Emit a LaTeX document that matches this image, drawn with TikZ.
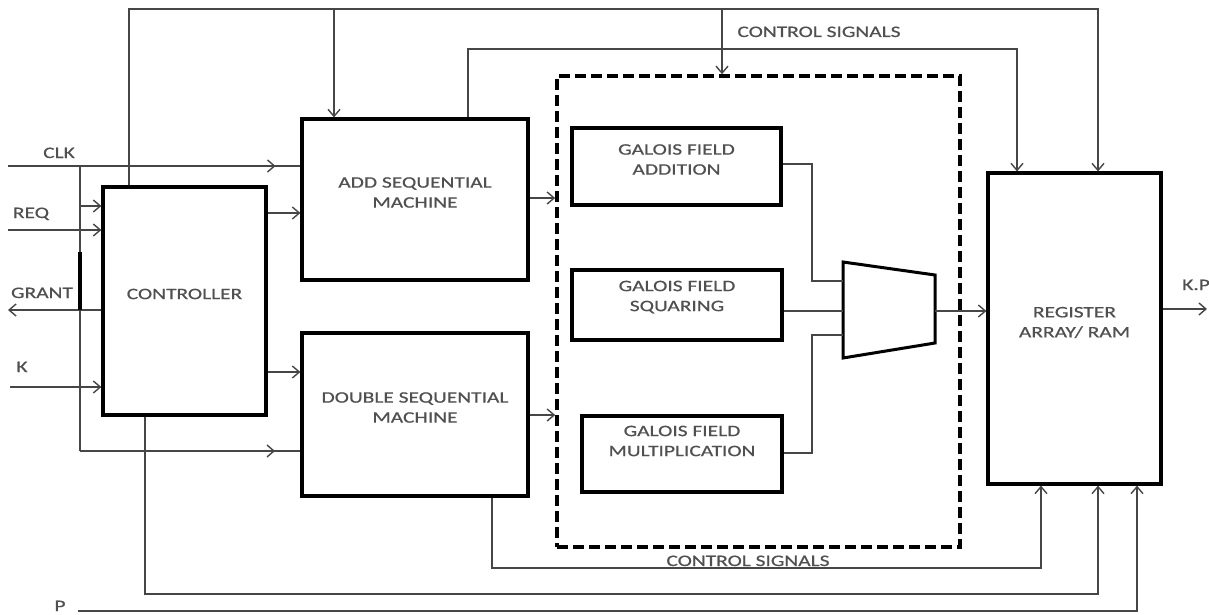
\documentclass[tikz,border=0pt]{standalone}
\usepackage{fontspec}
\setmainfont[FakeStretch=1.34,FakeBold=0.6]{Carlito}
\usetikzlibrary{arrows.meta,decorations.markings}

\definecolor{txtgray}{RGB}{80,80,80}
\definecolor{wiregray}{RGB}{70,70,70}

\begin{document}
\begin{tikzpicture}[x=1pt,y=-1pt,>={Straight Barb[length=7pt,width=12pt]},
    font=\fontsize{16}{20}\selectfont,
    box/.style={draw=black,line width=3.2pt,inner sep=0pt},
    wire/.style={draw=wiregray,line width=1.4pt},
    lbl/.style={text=txtgray,inner sep=0pt,align=center},
    midarrow/.style={postaction={decorate},decoration={markings,mark=at position #1 with {\arrow{>}}}}]
    \useasboundingbox (0,0) rectangle (1209,615);

    % Blocks
    \node[box,minimum width=163pt,minimum height=228pt,label={[lbl,yshift=7pt]center:CONTROLLER}] (ctrl) at (184.5,301) {};
    \node[box,minimum width=226pt,minimum height=161pt,label={[lbl,yshift=7pt]center:ADD SEQUENTIAL\\MACHINE}] (add) at (415,199.5) {};
    \node[box,minimum width=226pt,minimum height=163pt,label={[lbl,yshift=7pt]center:DOUBLE SEQUENTIAL\\MACHINE}] (dbl) at (415,414.5) {};
    \node[box,dash pattern=on 11pt off 5pt,line width=3.6pt,minimum width=403pt,minimum height=471pt] (gf) at (758.5,311.5) {};
    \node[box,minimum width=209pt,minimum height=77pt,label={[lbl,yshift=7pt]center:GALOIS FIELD\\ADDITION}] (gfadd) at (676.5,166.5) {};
    \node[box,minimum width=210pt,minimum height=70pt,label={[lbl,yshift=8pt]center:GALOIS FIELD\\SQUARING}] (gfsq) at (677,305) {};
    \node[box,minimum width=200pt,minimum height=76pt,label={[lbl,yshift=13pt]center:GALOIS FIELD\\MULTIPLICATION}] (gfmul) at (682,454) {};
    \node[box,minimum width=173pt,minimum height=311pt,label={[lbl,yshift=6pt]center:REGISTER\\ARRAY/ RAM}] (reg) at (1074.5,328.5) {};

    % Multiplexer
    \draw[line width=3pt,line join=miter] (843,262) -- (935,275) -- (935,343) -- (843,358) -- cycle;
    \coordinate (muxin1) at (843,281);
    \coordinate (muxin2) at (843,311);
    \coordinate (muxin3) at (843,335);
    \coordinate (muxout) at (935,311);

    % Top control bus
    \coordinate (bus1) at (129,9);
    \coordinate (bus2) at (334,9);
    \coordinate (bus3) at (722,9);
    \coordinate (bus4) at (1098,9);
    \draw[wire,->] (ctrl.north -| bus1) -- (bus1) -- (bus4) -- (reg.north -| bus4);
    \draw[wire,->] (bus2) -- (add.north -| bus2);
    \draw[wire,->] (bus3) -- (gf.north -| bus3);
    \coordinate (cs1) at (468,49);
    \coordinate (cs2) at (1017,49);
    \draw[wire,->] (add.north -| cs1) -- (cs1) -- (cs2) -- (reg.north -| cs2);
    \node[lbl,anchor=base] (cstop) at (819,37) {CONTROL SIGNALS};

    % Inputs on the left
    \coordinate (clkin) at (8,166);
    \coordinate (clkbus) at (80,166);
    \coordinate (clkreq) at (80,206);
    \coordinate (clkbot) at (80,451);
    \coordinate (reqin) at (8,230);
    \coordinate (grantout) at (8,310);
    \coordinate (gbar) at (80,252);
    \coordinate (kin) at (10,387);
    \draw[wire,midarrow=0.915] (clkin) -- (add.west |- clkin);
    \draw[wire] (clkbus) -- (clkbot);
    \draw[wire,->] (clkreq) -- (ctrl.west |- clkreq);
    \draw[wire,midarrow=0.885] (clkbot) -- (dbl.west |- clkbot);
    \draw[wire,->] (reqin) -- (ctrl.west |- reqin);
    \draw[wire,->] (ctrl.west |- grantout) -- (grantout);
    \draw[line width=4.5pt] (gbar) -- (gbar |- grantout);
    \draw[wire,->] (kin) -- (ctrl.west |- kin);
    \node[lbl,anchor=base] (lclk) at (59,158) {CLK};
    \node[lbl,anchor=base] (lreq) at (31,218) {REQ};
    \node[lbl,anchor=base] (lgrant) at (42,298) {GRANT};
    \node[lbl,anchor=base] (lk) at (22,372) {K};

    % Controller to sequential machines
    \coordinate (c2a) at (284,213);
    \coordinate (c2d) at (284,372);
    \draw[wire,->] (ctrl.east |- c2a) -- (add.west |- c2a);
    \draw[wire,->] (ctrl.east |- c2d) -- (dbl.west |- c2d);

    % Sequential machines to Galois field unit
    \coordinate (a2g) at (540,198);
    \coordinate (d2g) at (540,415);
    \draw[wire,->] (add.east |- a2g) -- (gf.west |- a2g);
    \draw[wire,->] (dbl.east |- d2g) -- (gf.west |- d2g);

    % Galois field blocks to multiplexer
    \coordinate (m1) at (812,164);
    \coordinate (m3) at (812,453);
    \draw[wire] (gfadd.east |- m1) -- (m1) |- (muxin1);
    \draw[wire] (gfsq.east |- muxin2) -- (muxin2);
    \draw[wire] (gfmul.east |- m3) -- (m3) |- (muxin3);
    \draw[wire,->] (muxout) -- (reg.west |- muxout);

    % Output
    \coordinate (kpout) at (1207,309);
    \draw[wire,->] (reg.east |- kpout) -- (kpout);
    \node[lbl,anchor=base west] (lkp) at (1182,290) {K.P};

    % Bottom lines
    \coordinate (cb1) at (492,568);
    \coordinate (cb2) at (1041,568);
    \draw[wire,->] (dbl.south -| cb1) -- (cb1) -- (cb2) -- (reg.south -| cb2);
    \node[lbl,anchor=base] (csbot) at (748,566) {CONTROL SIGNALS};
    \coordinate (cc1) at (145,594);
    \coordinate (cc2) at (1098,594);
    \draw[wire,->] (ctrl.south -| cc1) -- (cc1) -- (cc2) -- (reg.south -| cc2);
    \coordinate (pin) at (78,611);
    \coordinate (pr) at (1137,611);
    \draw[wire,->] (pin) -- (pr) -- (reg.south -| pr);
    \node[lbl,anchor=base] (lp) at (60,611) {P};
\end{tikzpicture}
\end{document}
